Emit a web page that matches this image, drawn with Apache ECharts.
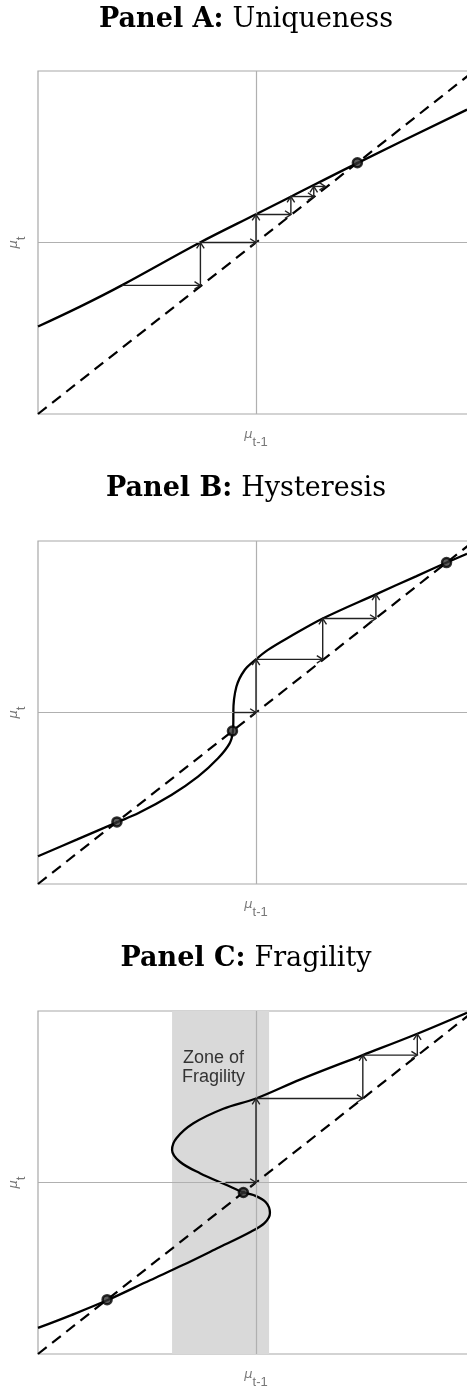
<!DOCTYPE html>
<html><head><meta charset="utf-8">
<script src="https://cdn.jsdelivr.net/npm/echarts@6/dist/echarts.min.js"></script>
<style>html,body{margin:0;padding:0;background:#fff}#c{width:467px;height:1391px}</style>
</head><body><div id="c"></div>
<script>
// ---- text ----
const titleBold = ['Panel A:', 'Panel B:', 'Panel C:'];
const titleText = ['Uniqueness', 'Hysteresis', 'Fragility'];
const xName = ['μ', 't-1'];
const yName = ['μ', 't'];
const bandText = 'Zone of\nFragility';

// ---- data (x = mu_{t-1}, y = mu_t, axis range -1..1) ----
const diagonal = [[-1, -1], [1, 1]];

const curveA = [[-1, -0.49], [-0.807, -0.374], [-0.616, -0.25], [-0.257, 0.0], [0, 0.165], [0.164, 0.27], [0.465, 0.463], [0.968, 0.775]];
const curveB = [[-1, -0.838], [-0.82, -0.74], [-0.638, -0.64], [-0.541, -0.588], [-0.388, -0.481], [-0.266, -0.374], [-0.174, -0.267], [-0.121, -0.18], [-0.106, -0.112], [-0.104, -0.05], [-0.104, 0.0], [-0.09, 0.15], [-0.052, 0.248], [0.0, 0.31], [0.055, 0.365], [0.153, 0.44], [0.306, 0.548], [0.55, 0.689], [0.734, 0.794], [0.872, 0.873], [0.968, 0.926]];
const curveC = [[-1, -0.848], [-0.847, -0.773], [-0.683, -0.687], [-0.486, -0.57], [-0.333, -0.48], [-0.18, -0.385], [-0.028, -0.29], [0.04, -0.235], [0.064, -0.178], [0.045, -0.115], [-0.012, -0.073], [-0.058, -0.058], [-0.135, -0.015], [-0.257, 0.054], [-0.349, 0.121], [-0.385, 0.19], [-0.365, 0.258], [-0.287, 0.345], [-0.15, 0.43], [0.0, 0.49], [0.202, 0.6], [0.49, 0.743], [0.737, 0.866], [0.968, 0.99]];

const fixedA = [[0.465, 0.465]];
const fixedB = [[-0.638, -0.638], [-0.108, -0.108], [0.874, 0.874]];
const fixedC = [[-0.683, -0.683], [-0.058, -0.058]];

// cobweb arrows: [x1, y1, x2, y2]
const stepsA = [[-0.616, -0.25, -0.255, -0.25], [-0.255, -0.25, -0.255, 0], [-0.255, 0, 0, 0], [0, 0, 0, 0.163], [0, 0.163, 0.16, 0.163], [0.16, 0.163, 0.16, 0.268], [0.16, 0.268, 0.265, 0.268], [0.265, 0.268, 0.265, 0.327], [0.265, 0.327, 0.318, 0.327]];
const stepsB = [[-0.104, 0, 0, 0], [0, 0, 0, 0.31], [0, 0.31, 0.306, 0.31], [0.306, 0.31, 0.306, 0.548], [0.306, 0.548, 0.55, 0.548], [0.55, 0.548, 0.55, 0.689]];
const stepsC = [[-0.14, 0, 0, 0], [0, 0, 0, 0.49], [0, 0.49, 0.49, 0.49], [0.49, 0.49, 0.49, 0.743], [0.49, 0.743, 0.74, 0.743], [0.74, 0.743, 0.74, 0.866]];

const bandC = [-0.385, 0.06];

// ---- layout ----
const gridTops = [71, 541, 1011];
const titleY = [20, 489, 959];
const curves = [curveA, curveB, curveC];
const fixeds = [fixedA, fixedB, fixedC];
const steps = [stepsA, stepsB, stepsC];

const nameRich = {
  m: { fontFamily: 'DejaVu Sans', fontStyle: 'italic', fontSize: 13, color: '#777', lineHeight: 21, verticalAlign: 'top' },
  s: { fontFamily: 'Liberation Sans', fontSize: 13, color: '#777', lineHeight: 21, verticalAlign: 'bottom' }
};

function arrowItem(params, api) {
  const p1 = api.coord([api.value(0), api.value(1)]);
  const p2 = api.coord([api.value(2), api.value(3)]);
  const a = Math.atan2(p2[1] - p1[1], p2[0] - p1[0]);
  const L = 7, th = Math.PI / 5.5;
  const w1 = [p2[0] - L * Math.cos(a - th), p2[1] - L * Math.sin(a - th)];
  const w2 = [p2[0] - L * Math.cos(a + th), p2[1] - L * Math.sin(a + th)];
  return {
    type: 'group', children: [
      { type: 'line', shape: { x1: p1[0], y1: p1[1], x2: p2[0], y2: p2[1] }, style: { stroke: '#222', lineWidth: 1.4 } },
      { type: 'polyline', shape: { points: [w1, p2, w2] }, style: { stroke: '#222', lineWidth: 1.4, fill: null } }
    ]
  };
}

const grid = [], xAxis = [], yAxis = [], series = [], graphic = [];
for (let i = 0; i < 3; i++) {
  grid.push({ left: 38, top: gridTops[i], width: 436, height: 343, outerBoundsMode: 'none', containLabel: false, show: true, borderColor: '#a8a8a8', borderWidth: 1.2, backgroundColor: '#fff' });
  xAxis.push({
    gridIndex: i, type: 'value', min: -1, max: 1, interval: 1,
    axisLine: { show: false, onZero: false }, axisTick: { show: false }, axisLabel: { show: false }, splitLine: { show: false },
    name: '{m|' + xName[0] + '}{s|' + xName[1] + '}', nameLocation: 'middle', nameGap: 14,
    nameTextStyle: { rich: nameRich }
  });
  yAxis.push({
    gridIndex: i, type: 'value', min: -1, max: 1, interval: 1,
    axisLine: { show: false, onZero: false }, axisTick: { show: false }, axisLabel: { show: false }, splitLine: { show: false },
    name: '{m|' + yName[0] + '}{s|' + yName[1] + '}', nameLocation: 'middle', nameGap: 10, nameRotate: 90,
    nameTextStyle: { rich: nameRich }
  });
  if (i === 2) {
    series.push({
      type: 'line', xAxisIndex: i, yAxisIndex: i, data: [], z: 1, silent: true,
      markArea: {
        silent: true,
        itemStyle: { color: '#d9d9d9', opacity: 1 },
        label: {
          show: true, position: 'insideTop', distance: 38, offset: [-7, 0], formatter: bandText,
          fontFamily: 'Liberation Sans', fontSize: 18, lineHeight: 19, color: '#333', align: 'center'
        },
        data: [[{ xAxis: bandC[0] }, { xAxis: bandC[1] }]]
      }
    });
  }
  series.push({
    type: 'line', xAxisIndex: i, yAxisIndex: i, data: [], z: 2, silent: true,
    markLine: {
      silent: true, symbol: 'none', label: { show: false },
      lineStyle: { color: '#b0b0b0', width: 1.2, type: 'solid' },
      data: [{ xAxis: 0 }, { yAxis: 0 }]
    }
  });
  series.push({
    type: 'line', xAxisIndex: i, yAxisIndex: i, data: diagonal, z: 3, silent: true,
    symbol: 'none', lineStyle: { color: '#000', width: 2.2, type: [11, 7] }
  });
  series.push({
    type: 'line', xAxisIndex: i, yAxisIndex: i, data: curves[i], z: 4, silent: true,
    symbol: 'none', smooth: 0.35, lineStyle: { color: '#000', width: 2.3 }
  });
  series.push({
    type: 'custom', xAxisIndex: i, yAxisIndex: i, data: steps[i], z: 5, silent: true,
    encode: { x: [0, 2], y: [1, 3] }, renderItem: arrowItem
  });
  series.push({
    type: 'scatter', xAxisIndex: i, yAxisIndex: i, data: fixeds[i], z: 6, silent: true,
    symbol: 'circle', symbolSize: 9, itemStyle: { color: '#333', borderColor: '#000', borderWidth: 2.5 }
  });
  graphic.push({
    type: 'text', x: 246, y: titleY[i],
    style: {
      text: '{b|' + titleBold[i] + '}{r|' + titleText[i] + '}',
      align: 'center', verticalAlign: 'middle',
      rich: {
        b: { fontFamily: 'DejaVu Serif', fontWeight: 'bold', fontSize: 27, fill: '#000', padding: [0, 9, 0, 0] },
        r: { fontFamily: 'DejaVu Serif', fontSize: 27, fill: '#000' }
      }
    }
  });
}

const chart = echarts.init(document.getElementById('c'), null, { renderer: 'canvas' });
chart.setOption({ animation: false, backgroundColor: '#fff', grid, xAxis, yAxis, series, graphic });
</script></body></html>
